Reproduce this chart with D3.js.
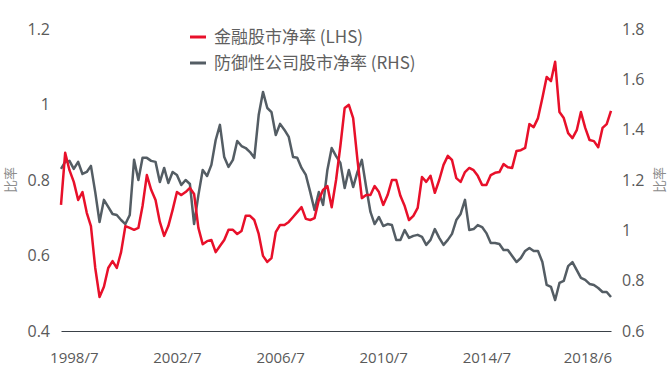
<!DOCTYPE html>
<html>
<head>
<meta charset="utf-8">
<script src="https://cdn.jsdelivr.net/npm/d3@7"></script>
<style>
  body { margin: 0; background: #fff; }
  svg { display: block; }
  .tick text { font-family: "Open Sans", "Noto Sans", sans-serif; fill: #5a5a5a; }
</style>
</head>
<body>
<svg width="670" height="373"></svg>
<script>
// first point of the series, then one point every 2 months
var startMonth = "1998/1";
var stepMonths = 2;

// 金融股市净率 (LHS)
var financials = [
  0.734, 0.872, 0.826, 0.795, 0.747, 0.768, 0.713, 0.678, 0.567, 0.490,
  0.517, 0.567, 0.585, 0.567, 0.609, 0.678, 0.673, 0.668, 0.673, 0.731,
  0.813, 0.774, 0.747, 0.689, 0.652, 0.678, 0.721, 0.768, 0.760, 0.768,
  0.779, 0.763, 0.673, 0.630, 0.638, 0.641, 0.609, 0.625, 0.641, 0.668,
  0.668, 0.657, 0.665, 0.705, 0.705, 0.694, 0.657, 0.599, 0.583, 0.593,
  0.662, 0.681, 0.681, 0.689, 0.702, 0.715, 0.728, 0.697, 0.694, 0.699,
  0.747, 0.774, 0.784, 0.728, 0.800, 0.890, 0.991, 0.999, 0.964, 0.853,
  0.752, 0.760, 0.760, 0.784, 0.768, 0.734, 0.760, 0.800, 0.800, 0.758,
  0.731, 0.694, 0.705, 0.726, 0.808, 0.795, 0.811, 0.766, 0.800, 0.840,
  0.864, 0.853, 0.805, 0.795, 0.821, 0.832, 0.826, 0.811, 0.787, 0.787,
  0.813, 0.819, 0.821, 0.842, 0.834, 0.832, 0.877, 0.879, 0.885, 0.948,
  0.940, 0.964, 1.017, 1.073, 1.062, 1.113, 0.980, 0.964, 0.924, 0.911,
  0.932, 0.980, 0.938, 0.906, 0.903, 0.887, 0.938, 0.948, 0.983
];

// 防御性公司股市净率 (RHS)
var defensives = [
  1.244, 1.272, 1.276, 1.244, 1.272, 1.224, 1.232, 1.256, 1.152, 1.033,
  1.121, 1.093, 1.065, 1.061, 1.041, 1.025, 1.061, 1.280, 1.200, 1.288,
  1.288, 1.276, 1.272, 1.192, 1.248, 1.188, 1.232, 1.220, 1.180, 1.200,
  1.184, 1.025, 1.140, 1.240, 1.216, 1.260, 1.359, 1.419, 1.291, 1.252,
  1.280, 1.355, 1.335, 1.327, 1.311, 1.288, 1.458, 1.550, 1.486, 1.470,
  1.379, 1.423, 1.399, 1.371, 1.291, 1.288, 1.248, 1.220, 1.152, 1.081,
  1.152, 1.101, 1.240, 1.327, 1.295, 1.268, 1.168, 1.240, 1.172, 1.232,
  1.280, 1.172, 1.073, 1.025, 1.053, 1.017, 1.025, 1.021, 0.962, 0.962,
  1.001, 0.970, 0.978, 0.982, 0.974, 0.942, 0.962, 1.005, 0.970, 0.942,
  0.962, 0.986, 1.041, 1.065, 1.121, 1.001, 1.005, 1.021, 1.013, 0.989,
  0.950, 0.950, 0.946, 0.922, 0.922, 0.898, 0.874, 0.890, 0.918, 0.930,
  0.918, 0.918, 0.874, 0.783, 0.775, 0.723, 0.791, 0.799, 0.858, 0.874,
  0.842, 0.811, 0.803, 0.787, 0.783, 0.771, 0.755, 0.755, 0.735
];

var xTickLabels = ["1998/7", "2002/7", "2006/7", "2010/7", "2014/7", "2018/6"];
var leftTicks = [0.4, 0.6, 0.8, 1, 1.2];
var rightTicks = [0.6, 0.8, 1, 1.2, 1.4, 1.6, 1.8];
var seriesNames = ["金融股市净率 (LHS)", "防御性公司股市净率 (RHS)"];
var axisTitle = "比率";

var RED = "#e8102a", GREY = "#545d64";

var svg = d3.select("svg");
var parseMonth = d3.timeParse("%Y/%m");
var start = parseMonth(startMonth);
var dates = financials.map(function (d, i) { return d3.timeMonth.offset(start, i * stepMonths); });

var x = d3.scaleTime()
    .domain(d3.extent(dates))
    .range([61, 611]);
var yL = d3.scaleLinear().domain([0.4, 1.2]).range([331, 29]);
var yR = d3.scaleLinear().domain([0.6, 1.8]).range([331, 29]);

// x axis
var xAxis = svg.append("g")
    .attr("transform", "translate(0,331)")
    .call(d3.axisBottom(x)
        .tickValues(xTickLabels.map(parseMonth))
        .tickFormat(function (d, i) { return xTickLabels[i]; })
        .tickSize(0)
        .tickPadding(21));
xAxis.select(".domain").attr("stroke", "#3a4148").attr("stroke-width", 1.2);
xAxis.selectAll("text").style("font-size", "15px");

// left axis
var lAxis = svg.append("g")
    .attr("transform", "translate(61,0)")
    .call(d3.axisLeft(yL).tickValues(leftTicks).tickFormat(String).tickSize(0).tickPadding(11));
lAxis.select(".domain").remove();
lAxis.selectAll("text").style("font-size", "16px");

// right axis
var rAxis = svg.append("g")
    .attr("transform", "translate(611,0)")
    .call(d3.axisRight(yR).tickValues(rightTicks).tickFormat(String).tickSize(0).tickPadding(11));
rAxis.select(".domain").remove();
rAxis.selectAll("text").style("font-size", "16px");

// axis titles
[10, 659].forEach(function (cx) {
    svg.append("text")
        .attr("transform", "translate(" + cx + ",180) rotate(-90)")
        .attr("text-anchor", "middle")
        .attr("dy", "0.35em")
        .style("font-family", "'Noto Sans CJK SC', sans-serif")
        .style("font-size", "13px")
        .attr("fill", "#8c8c8c")
        .text(axisTitle);
});

// lines
var lineL = d3.line()
    .x(function (d, i) { return x(dates[i]); })
    .y(function (d) { return yL(d); });
var lineR = d3.line()
    .x(function (d, i) { return x(dates[i]); })
    .y(function (d) { return yR(d); });

svg.append("path")
    .datum(defensives)
    .attr("fill", "none")
    .attr("stroke", GREY)
    .attr("stroke-width", 2.5)
    .attr("stroke-linejoin", "round")
    .attr("d", lineR);

svg.append("path")
    .datum(financials)
    .attr("fill", "none")
    .attr("stroke", RED)
    .attr("stroke-width", 2.5)
    .attr("stroke-linejoin", "round")
    .attr("d", lineL);

// legend
var legend = svg.selectAll(".legend")
    .data(seriesNames)
    .enter().append("g")
    .attr("class", "legend")
    .attr("transform", function (d, i) { return "translate(190," + (37 + i * 26) + ")"; });

legend.append("line")
    .attr("x1", 0).attr("x2", 16)
    .attr("stroke", function (d, i) { return i === 0 ? RED : GREY; })
    .attr("stroke-width", 3);

legend.append("text")
    .attr("x", 24)
    .attr("dy", "0.36em")
    .style("font-family", "'Noto Sans CJK SC', 'Open Sans', sans-serif")
    .style("font-size", "17px")
    .attr("fill", "#5f5f5f")
    .text(function (d) { return d; });
</script>
</body>
</html>
